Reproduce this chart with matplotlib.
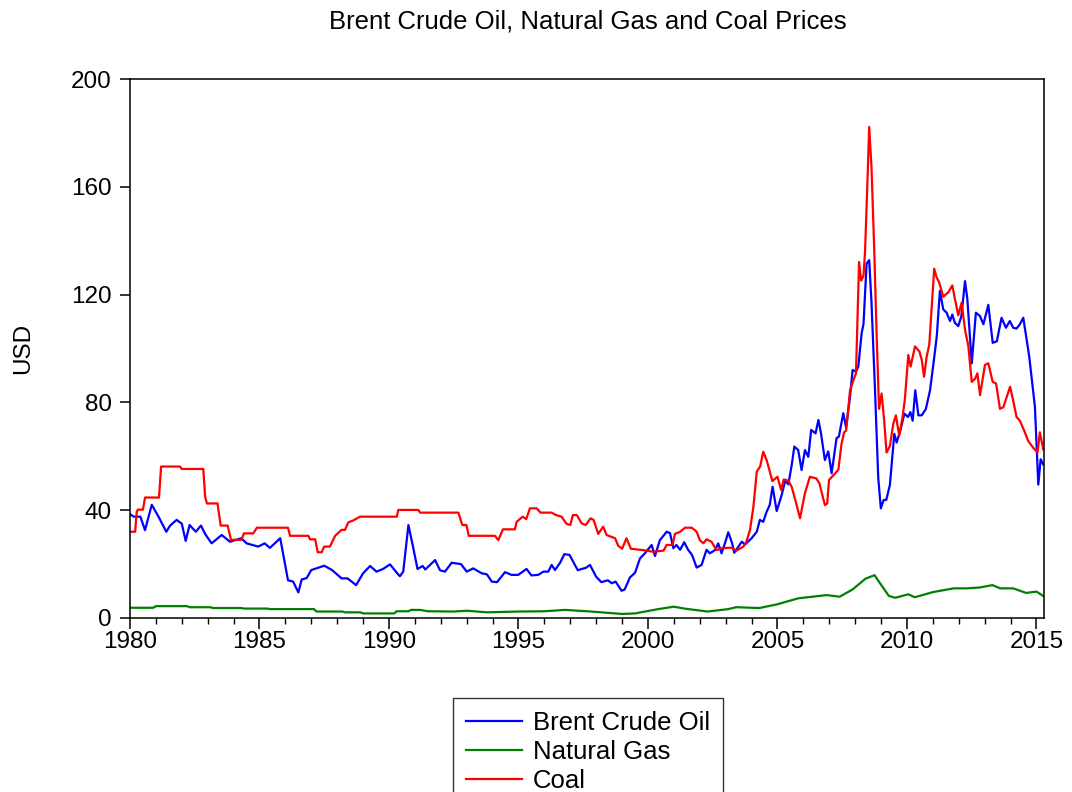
import numpy as np
import matplotlib
matplotlib.use("Agg")
import matplotlib.pyplot as plt
from matplotlib.ticker import MultipleLocator

# Brent crude oil (USD/bbl): decimal year, price
oil_t = [1980.0, 1980.15, 1980.4, 1980.58, 1980.84, 1981.1, 1981.4, 1981.55, 1981.8, 1982.0,
         1982.15, 1982.3, 1982.54, 1982.74, 1982.9, 1983.15, 1983.54, 1983.86, 1984.3, 1984.5,
         1984.95, 1985.2, 1985.4, 1985.8, 1986.1, 1986.3, 1986.5, 1986.63, 1986.82, 1987.0,
         1987.5, 1987.8, 1988.17, 1988.4, 1988.73, 1989.0, 1989.27, 1989.52, 1989.77, 1990.04,
         1990.3, 1990.42, 1990.55, 1990.75, 1990.94, 1991.1, 1991.3, 1991.4, 1991.78, 1991.97,
         1992.16, 1992.42, 1992.78, 1993.0, 1993.25, 1993.58, 1993.78, 1993.97, 1994.17, 1994.48,
         1994.73, 1994.99, 1995.31, 1995.5, 1995.76, 1995.96, 1996.15, 1996.28, 1996.41, 1996.6,
         1996.77, 1996.97, 1997.29, 1997.44, 1997.6, 1997.76, 1998.0, 1998.2, 1998.45, 1998.6,
         1998.75, 1998.98, 1999.1, 1999.3, 1999.5, 1999.69, 1999.88, 2000.14, 2000.27, 2000.46,
         2000.72, 2000.85, 2000.98, 2001.1, 2001.24, 2001.4, 2001.55, 2001.7, 2001.88, 2002.07,
         2002.26, 2002.39, 2002.6, 2002.71, 2002.84, 2002.97, 2003.1, 2003.25, 2003.33, 2003.62,
         2003.75, 2004.0, 2004.2, 2004.32, 2004.45, 2004.58, 2004.7, 2004.81, 2004.97, 2005.16,
         2005.3, 2005.42, 2005.55, 2005.65, 2005.8, 2005.93, 2006.06, 2006.19, 2006.3, 2006.47,
         2006.58, 2006.68, 2006.83, 2006.96, 2007.09, 2007.28, 2007.37, 2007.54, 2007.65, 2007.8,
         2007.9, 2008.03, 2008.12, 2008.25, 2008.32, 2008.44, 2008.54, 2008.63, 2008.76, 2008.89,
         2008.99, 2009.1, 2009.2, 2009.34, 2009.51, 2009.6, 2009.74, 2009.9, 2010.04, 2010.13,
         2010.22, 2010.32, 2010.44, 2010.57, 2010.73, 2010.89, 2011.04, 2011.15, 2011.27, 2011.4,
         2011.53, 2011.66, 2011.75, 2011.85, 2011.98, 2012.1, 2012.24, 2012.33, 2012.5, 2012.66,
         2012.82, 2012.95, 2013.14, 2013.31, 2013.47, 2013.65, 2013.82, 2013.97, 2014.1, 2014.23,
         2014.36, 2014.49, 2014.72, 2014.94, 2015.07, 2015.16, 2015.26]
oil_v = [38.5, 37.6, 37.6, 32.6, 42.0, 37.6, 32.0, 34.3, 36.4, 35.0,
         28.6, 34.5, 32.0, 34.3, 31.2, 27.7, 30.8, 28.3, 29.6, 27.7,
         26.5, 27.7, 26.0, 29.6, 14.0, 13.5, 9.5, 14.3, 14.8, 17.8,
         19.4, 17.8, 14.7, 14.7, 12.2, 16.6, 19.3, 17.2, 18.2, 19.9,
         16.8, 15.5, 17.2, 34.5, 25.9, 18.2, 19.3, 18.0, 21.5, 17.7,
         17.2, 20.5, 20.0, 17.2, 18.4, 16.6, 16.2, 13.5, 13.3, 17.0,
         16.0, 16.0, 18.2, 15.8, 16.0, 17.2, 17.2, 19.7, 17.8, 20.4,
         23.7, 23.4, 17.7, 18.2, 18.6, 19.7, 15.3, 13.3, 14.0, 12.9,
         13.5, 10.1, 10.6, 15.0, 16.8, 22.1, 24.0, 27.1, 23.0, 28.9,
         32.0, 31.5, 25.9, 27.1, 25.3, 28.1, 25.3, 23.4, 18.7, 19.7,
         25.3, 24.0, 25.3, 27.7, 24.0, 27.7, 31.8, 27.7, 24.2, 28.3,
         27.3, 29.6, 32.0, 36.4, 35.7, 39.4, 41.9, 48.7, 39.7, 45.6,
         51.0, 49.6, 56.8, 63.6, 62.3, 54.9, 62.3, 59.8, 69.8, 68.5,
         73.5, 68.5, 58.6, 61.8, 53.7, 66.7, 67.3, 76.0, 70.7, 82.0,
         92.0, 91.4, 93.3, 105.8, 109.0, 131.5, 132.8, 117.0, 85.8, 52.0,
         40.7, 43.8, 43.8, 49.4, 68.3, 65.1, 69.5, 75.8, 74.6, 76.4,
         73.2, 84.5, 75.2, 75.2, 77.6, 84.5, 95.8, 104.5, 121.4, 114.5,
         113.3, 110.2, 112.6, 109.5, 108.3, 112.0, 125.0, 118.4, 94.5, 113.3,
         112.0, 109.0, 116.2, 102.1, 102.7, 111.4, 107.7, 110.2, 107.7, 107.4,
         109.0, 111.4, 97.0, 78.3, 49.5, 58.9, 57.0]

# Natural gas (USD/mmbtu)
gas_t = [1980.0, 1980.9, 1981.0, 1982.2, 1982.3, 1983.1, 1983.2, 1984.3, 1984.4, 1985.3,
         1985.4, 1987.1, 1987.2, 1988.2, 1988.3, 1988.9, 1989.0, 1990.2, 1990.3, 1990.75,
         1990.85, 1991.2, 1991.5, 1992.5, 1993.0, 1993.8, 1995.0, 1996.0, 1996.8, 1997.8,
         1999.0, 1999.5, 2000.0, 2000.4, 2001.0, 2001.4, 2002.3, 2003.1, 2003.4, 2004.3,
         2005.0, 2005.8, 2006.9, 2007.4, 2007.9, 2008.4, 2008.75, 2008.85, 2009.3, 2009.55,
         2010.05, 2010.3, 2011.0, 2011.8, 2012.3, 2012.8, 2013.3, 2013.6, 2014.1, 2014.6,
         2015.0, 2015.29]
gas_v = [3.8, 3.8, 4.4, 4.4, 4.0, 4.0, 3.7, 3.7, 3.5, 3.5,
         3.3, 3.3, 2.4, 2.4, 2.1, 2.1, 1.7, 1.7, 2.5, 2.5,
         3.0, 3.0, 2.5, 2.4, 2.7, 2.1, 2.4, 2.5, 3.0, 2.4,
         1.5, 1.7, 2.6, 3.3, 4.2, 3.5, 2.4, 3.3, 4.0, 3.7,
         5.1, 7.3, 8.5, 7.9, 10.6, 14.6, 15.9, 14.4, 8.2, 7.5,
         8.8, 7.7, 9.6, 11.0, 11.0, 11.3, 12.2, 11.0, 11.0, 9.3,
         9.8, 8.0]

# Coal (USD/t)
coal_t = [1980.0, 1980.2, 1980.26, 1980.3, 1980.5, 1980.58, 1981.12, 1981.2, 1981.93, 1982.0,
          1982.83, 1982.9, 1982.97, 1983.38, 1983.5, 1983.77, 1983.9, 1984.3, 1984.4, 1984.76,
          1984.9, 1986.1, 1986.18, 1986.89, 1986.95, 1987.15, 1987.25, 1987.4, 1987.5, 1987.72,
          1987.92, 1988.17, 1988.3, 1988.43, 1988.62, 1988.88, 1990.3, 1990.36, 1991.13, 1991.2,
          1992.68, 1992.83, 1992.99, 1993.08, 1994.09, 1994.22, 1994.4, 1994.86, 1994.93, 1995.16,
          1995.3, 1995.44, 1995.7, 1995.85, 1996.28, 1996.45, 1996.66, 1996.86, 1997.0, 1997.1,
          1997.25, 1997.44, 1997.6, 1997.78, 1997.9, 1998.08, 1998.27, 1998.4, 1998.73, 1998.85,
          1999.0, 1999.17, 1999.34, 1999.8, 2000.2, 2000.6, 2000.72, 2000.95, 2001.04, 2001.24,
          2001.43, 2001.69, 2001.88, 2002.0, 2002.14, 2002.26, 2002.45, 2002.65, 2002.84, 2003.22,
          2003.42, 2003.68, 2003.8, 2003.94, 2004.07, 2004.2, 2004.33, 2004.45, 2004.58, 2004.67,
          2004.8, 2005.0, 2005.14, 2005.24, 2005.42, 2005.55, 2005.74, 2005.87, 2006.06, 2006.25,
          2006.5, 2006.62, 2006.83, 2006.92, 2006.99, 2007.16, 2007.35, 2007.47, 2007.57, 2007.65,
          2007.8, 2007.95, 2008.03, 2008.15, 2008.23, 2008.32, 2008.38, 2008.47, 2008.54, 2008.63,
          2008.73, 2008.83, 2008.92, 2009.02, 2009.12, 2009.21, 2009.34, 2009.47, 2009.57, 2009.7,
          2009.83, 2009.92, 2010.05, 2010.14, 2010.31, 2010.48, 2010.57, 2010.66, 2010.76, 2010.86,
          2010.95, 2011.05, 2011.14, 2011.24, 2011.4, 2011.59, 2011.75, 2011.85, 2011.98, 2012.11,
          2012.24, 2012.37, 2012.5, 2012.63, 2012.72, 2012.82, 2013.01, 2013.14, 2013.31, 2013.44,
          2013.59, 2013.72, 2013.98, 2014.1, 2014.23, 2014.36, 2014.55, 2014.68, 2014.87, 2015.04,
          2015.13, 2015.26]
coal_v = [32.0, 32.0, 39.4, 40.2, 40.2, 44.7, 44.7, 56.2, 56.2, 55.3,
          55.3, 45.0, 42.5, 42.5, 34.3, 34.3, 29.0, 29.0, 31.4, 31.4,
          33.5, 33.5, 30.5, 30.5, 29.2, 29.2, 24.4, 24.4, 26.5, 26.5,
          30.5, 32.7, 32.7, 35.5, 36.2, 37.6, 37.6, 40.1, 40.1, 39.1,
          39.1, 34.5, 34.5, 30.5, 30.5, 28.9, 32.9, 32.9, 35.7, 37.6,
          36.7, 40.7, 40.7, 39.1, 39.1, 38.2, 37.6, 34.9, 34.5, 38.2,
          38.2, 35.1, 34.5, 37.0, 36.4, 31.2, 33.9, 30.8, 29.6, 26.8,
          25.7, 29.6, 25.7, 25.2, 24.6, 25.0, 27.1, 27.1, 31.2, 32.0,
          33.5, 33.5, 32.0, 28.9, 27.7, 29.2, 28.3, 25.2, 25.9, 26.1,
          25.0, 26.5, 28.3, 32.7, 41.3, 54.3, 56.2, 61.7, 58.6, 55.5,
          50.8, 52.4, 47.5, 51.4, 51.0, 48.6, 41.9, 37.0, 46.3, 52.4,
          51.8, 49.9, 41.9, 42.5, 51.2, 53.0, 55.0, 64.5, 68.9, 69.5,
          84.4, 88.8, 90.7, 132.1, 125.2, 127.0, 135.8, 160.9, 182.2, 167.2,
          138.3, 104.5, 77.6, 83.3, 73.2, 61.4, 63.8, 72.0, 75.2, 67.7,
          74.6, 81.3, 97.6, 93.3, 100.8, 98.9, 95.8, 89.5, 97.0, 101.4,
          114.5, 129.6, 126.5, 124.6, 119.2, 120.8, 123.4, 118.4, 112.3, 117.0,
          107.0, 100.8, 87.6, 88.8, 90.8, 82.7, 93.9, 94.5, 87.6, 87.0,
          77.6, 78.2, 85.8, 80.7, 74.6, 73.2, 68.9, 65.7, 63.2, 61.4,
          68.9, 62.6]

plt.rcParams["font.family"] = ["Liberation Sans", "DejaVu Sans"]
fs = 17.5      # tick labels, axis label
fs_big = 18.5  # title, legend

fig = plt.figure(figsize=(10.72, 7.92), dpi=100)
ax = fig.add_axes([130 / 1072, 1 - 618 / 792, (1044 - 130) / 1072, (618 - 79) / 792])

ax.plot(oil_t, oil_v, color="#0000ff", lw=1.6, label="Brent Crude Oil")
ax.plot(gas_t, gas_v, color="#008000", lw=1.6, label="Natural Gas")
ax.plot(coal_t, coal_v, color="#ff0000", lw=1.6, label="Coal")

ax.set_xlim(1980, 2015.29)
ax.set_ylim(0, 200)
ax.set_xticks(np.arange(1980, 2016, 5))
ax.xaxis.set_minor_locator(MultipleLocator(1))
ax.set_yticks(np.arange(0, 201, 40))
ax.tick_params(axis="y", which="major", direction="out", length=7, width=1.1, labelsize=fs, pad=6)
ax.tick_params(axis="x", which="major", direction="out", length=8, width=1.1, labelsize=fs, pad=1)
ax.tick_params(axis="x", which="minor", direction="out", length=4.5, width=1.0)
for s in ax.spines.values():
    s.set_linewidth(1.1)

ax.set_ylabel("USD", fontsize=fs, labelpad=27)
fig.text(588 / 1072, 1 - 22 / 792, "Brent Crude Oil, Natural Gas and Coal Prices",
         fontsize=fs_big, ha="center", va="center")

leg = fig.legend(loc="upper left", bbox_to_anchor=(453 / 1072, 1 - 698 / 792),
                 fontsize=fs_big, frameon=True, fancybox=False, handlelength=2.18,
                 handletextpad=0.43, labelspacing=0.2, borderpad=0.5, borderaxespad=0)
leg.get_frame().set_edgecolor("black")
leg.get_frame().set_linewidth(1.0)
for h in leg.get_lines():
    h.set_linewidth(1.6)

fig.savefig("out.png", dpi=100)
